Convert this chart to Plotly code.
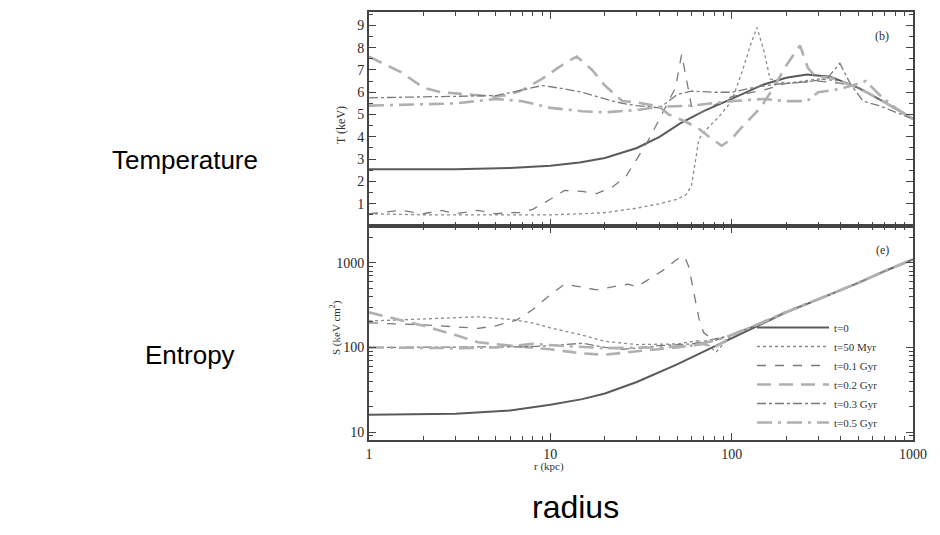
import plotly.graph_objects as go

# ---------------- data ----------------
series_names = ["t=0", "t=50 Myr", "t=0.1 Gyr", "t=0.2 Gyr", "t=0.3 Gyr", "t=0.5 Gyr"]

# Temperature (keV) vs r (kpc)
r_T0 = [1, 3, 6, 10, 14.5, 20, 30, 40, 52, 70, 100, 150, 200, 260, 350, 500, 700, 1000]
T0 = [2.55, 2.55, 2.6, 2.7, 2.85, 3.05, 3.5, 4.0, 4.6, 5.15, 5.7, 6.35, 6.65, 6.8, 6.7, 6.2, 5.55, 4.8]

r_T50 = [1, 2, 4, 7, 10, 15, 20, 30, 40, 50, 56, 60, 63, 66, 72, 85, 100, 115, 128, 138, 150, 163, 200, 250, 300, 400, 500, 700, 1000]
T50 = [0.55, 0.5, 0.5, 0.5, 0.5, 0.55, 0.6, 0.8, 1.0, 1.2, 1.4, 1.8, 2.8, 3.9, 4.3, 4.9, 5.6, 7.0, 8.2, 8.9, 7.9, 6.6, 6.4, 6.5, 6.6, 6.5, 6.2, 5.55, 4.8]

r_T01 = [1, 1.5, 2, 2.5, 3, 4, 5, 6, 7, 8, 10, 12, 15, 18, 22, 26, 30, 35, 40, 45, 49, 53, 56, 60, 65, 75, 100, 150, 200, 300, 400, 500, 700, 1000]
T01 = [0.55, 0.7, 0.55, 0.7, 0.55, 0.7, 0.55, 0.6, 0.6, 0.75, 1.2, 1.6, 1.55, 1.45, 1.75, 2.2, 3.0, 3.9, 4.8, 5.6, 6.2, 7.7, 6.6, 5.4, 5.0, 5.3, 5.8, 6.1, 6.4, 6.5, 6.4, 6.2, 5.55, 4.8]

r_T02 = [1, 1.5, 2, 2.5, 3, 4, 5, 6, 7, 9, 12, 14, 17, 20, 25, 30, 40, 45, 55, 65, 75, 88, 100, 110, 144, 170, 200, 238, 263, 290, 350, 500, 700, 1000]
T02 = [7.6, 6.9, 6.2, 6.0, 5.95, 5.85, 5.8, 5.9, 6.1, 6.6, 7.3, 7.6, 7.0, 6.3, 5.6, 5.55, 5.35, 5.0, 4.7, 4.4, 4.0, 3.6, 3.9, 4.3, 5.3, 6.2, 7.2, 8.1, 7.1, 6.7, 6.65, 6.2, 5.55, 4.8]

r_T03 = [1, 3, 5, 7, 9, 12, 15, 20, 25, 30, 40, 45, 50, 60, 80, 100, 130, 170, 250, 335, 395, 450, 530, 650, 800, 1000]
T03 = [5.75, 5.8, 5.85, 6.1, 6.3, 6.15, 6.0, 5.7, 5.5, 5.4, 5.3, 5.6, 5.9, 6.05, 6.0, 6.0, 6.2, 6.35, 6.45, 6.6, 7.3, 6.4, 5.6, 5.4, 5.1, 4.8]

r_T05 = [1, 3, 5, 7, 10, 15, 20, 30, 40, 60, 100, 150, 200, 260, 300, 400, 550, 650, 800, 1000]
T05 = [5.4, 5.5, 5.7, 5.6, 5.3, 5.15, 5.1, 5.2, 5.35, 5.4, 5.6, 5.7, 5.6, 5.6, 6.0, 6.15, 6.5, 5.9, 5.3, 4.8]

# Entropy (keV cm^2) vs r (kpc)
r_S0 = [1, 3, 6, 10, 15, 20, 30, 50, 70, 100, 150, 200, 300, 500, 700, 1000]
S0 = [16, 16.5, 18, 21, 24.5, 28.5, 39, 63, 89, 128, 190, 260, 370, 580, 800, 1100]

r_S50 = [1, 2, 4, 6, 8, 10, 15, 20, 30, 50, 65, 75, 82, 90, 100, 150, 200, 300, 500, 700, 1000]
S50 = [205, 215, 230, 215, 195, 170, 140, 118, 108, 110, 120, 105, 88, 110, 140, 195, 260, 370, 580, 800, 1100]

r_S01 = [1, 2, 3, 4, 5, 6.5, 8, 10, 12, 15, 18, 22, 27, 30, 35, 42, 50, 55, 58, 62, 66, 70, 80, 100, 150, 200, 300, 500, 700, 1000]
S01 = [195, 185, 175, 168, 180, 210, 280, 420, 560, 520, 480, 520, 560, 520, 640, 820, 1100, 1180, 900, 450, 220, 150, 120, 140, 200, 262, 370, 580, 800, 1100]

r_S02 = [1, 2, 3, 4, 6, 10, 15, 20, 30, 50, 70, 80, 90, 100, 150, 200, 300, 500, 700, 1000]
S02 = [260, 180, 140, 115, 105, 95, 85, 82, 90, 100, 110, 100, 115, 140, 200, 262, 370, 580, 800, 1100]

r_S03 = [1, 3, 5, 8, 12, 15, 20, 25, 40, 60, 80, 100, 150, 200, 300, 500, 700, 1000]
S03 = [100, 100, 100, 102, 108, 112, 100, 95, 105, 110, 125, 140, 198, 262, 372, 582, 800, 1100]

r_S05 = [1, 3, 5, 8, 12, 20, 40, 60, 80, 100, 150, 200, 300, 500, 700, 1000]
S05 = [100, 98, 100, 110, 104, 98, 100, 105, 120, 140, 200, 262, 372, 582, 800, 1100]

T_ticks = [1, 2, 3, 4, 5, 6, 7, 8, 9]
T_minor = [0.5, 1.5, 2.5, 3.5, 4.5, 5.5, 6.5, 7.5, 8.5, 9.5]
S_ticks = [10, 100, 1000]
S_minor = [9, 20, 30, 40, 50, 60, 70, 80, 90, 200, 300, 400, 500, 600, 700, 800, 900, 2000]
r_ticks = [1, 10, 100, 1000]
r_minor = [2, 3, 4, 5, 6, 7, 8, 9, 20, 30, 40, 50, 60, 70, 80, 90, 200, 300, 400, 500, 600, 700, 800, 900]

# ---------------- styles ----------------
styles = [
    dict(color="#5a5a5a", width=2.0, dash="solid"),
    dict(color="#8a8a8a", width=1.3, dash="dot"),
    dict(color="#7a7a7a", width=1.3, dash="dash"),
    dict(color="#b0b0b0", width=2.6, dash="14px,8px"),
    dict(color="#7a7a7a", width=1.3, dash="dashdot"),
    dict(color="#b0b0b0", width=2.6, dash="longdashdot"),
]

T_data = [(r_T0, T0), (r_T50, T50), (r_T01, T01), (r_T02, T02), (r_T03, T03), (r_T05, T05)]
S_data = [(r_S0, S0), (r_S50, S50), (r_S01, S01), (r_S02, S02), (r_S03, S03), (r_S05, S05)]

fig = go.Figure()
for name, st, (rr, tt) in zip(series_names, styles, T_data):
    fig.add_trace(go.Scatter(x=rr, y=tt, mode="lines", line=st, name=name,
                             showlegend=False, xaxis="x", yaxis="y"))
for name, st, (rr, ss) in zip(series_names, styles, S_data):
    fig.add_trace(go.Scatter(x=rr, y=ss, mode="lines", line=st, name=name,
                             showlegend=True, xaxis="x2", yaxis="y2"))

W, H = 940, 535
OFF = 8  # page body margin
x0, x1 = 369, 913
yt0, ymid, yb1 = 12, 226, 440

def px(v):
    return (v - OFF) / W

def py(v):
    return 1 - (v - OFF) / H

tickfont = dict(family="Liberation Serif", size=14, color="#2a2a2a")
axcol = "#444444"
common = dict(showline=True, linecolor=axcol, linewidth=2, mirror="allticks",
              ticks="inside", tickcolor=axcol, ticklen=7, tickwidth=1,
              showgrid=False, zeroline=False, tickfont=tickfont, automargin=False)

def minor(vals):
    return dict(tickvals=vals, ticks="inside", ticklen=4, tickcolor=axcol, tickwidth=1, showgrid=False)

fig.update_layout(
    width=W, height=H,
    margin=dict(l=0, r=0, t=0, b=0, autoexpand=False),
    paper_bgcolor="white", plot_bgcolor="white",
    showlegend=True,
    xaxis=dict(type="log", range=[0, 3], domain=[px(x0), px(x1)], anchor="y",
               showticklabels=False, tickvals=r_ticks, minor=minor(r_minor), **common),
    yaxis=dict(range=[0, 9.6], domain=[py(ymid), py(yt0)], anchor="x",
               tickvals=T_ticks, ticktext=[str(v) for v in T_ticks],
               minor=minor(T_minor), **common),
    xaxis2=dict(type="log", range=[0, 3], domain=[px(x0), px(x1)], anchor="y2",
                tickvals=r_ticks, ticktext=[str(v) for v in r_ticks],
                minor=minor(r_minor), **common),
    yaxis2=dict(type="log", range=[0.906, 3.435], domain=[py(yb1), py(ymid)], anchor="x2",
                tickvals=S_ticks, ticktext=[str(v) for v in S_ticks],
                minor=minor(S_minor), **common),
    legend=dict(x=px(752), y=py(313), xanchor="left", yanchor="top",
                bgcolor="rgba(0,0,0,0)", itemwidth=72, tracegroupgap=0,
                font=dict(family="Liberation Serif", size=11, color="#333333")),
)

annots = [
    dict(text="Temperature", x=px(185), y=py(160), size=26, family="Liberation Sans", color="black", angle=0),
    dict(text="Entropy", x=px(190), y=py(355), size=26, family="Liberation Sans", color="black", angle=0),
    dict(text="radius", x=px(575), y=py(507), size=32, family="Liberation Sans", color="black", angle=0),
    dict(text="T (keV)", x=px(341), y=py(125), size=12, family="Liberation Serif", color="#333333", angle=-90),
    dict(text="S (keV cm<sup>2</sup>)", x=px(335), y=py(328), size=11, family="Liberation Serif", color="#333333", angle=-90),
    dict(text="r (kpc)", x=px(549), y=py(466), size=11, family="Liberation Serif", color="#333333", angle=0),
    dict(text="(b)", x=px(882), y=py(36), size=12, family="Liberation Serif", color="#333333", angle=0),
    dict(text="(e)", x=px(882), y=py(250), size=12, family="Liberation Serif", color="#333333", angle=0),
]
for a in annots:
    fig.add_annotation(text=a["text"], x=a["x"], y=a["y"], xref="paper", yref="paper",
                       showarrow=False, textangle=a["angle"], xanchor="center", yanchor="middle",
                       font=dict(family=a["family"], size=a["size"], color=a["color"]))

fig.write_html("out.html")
